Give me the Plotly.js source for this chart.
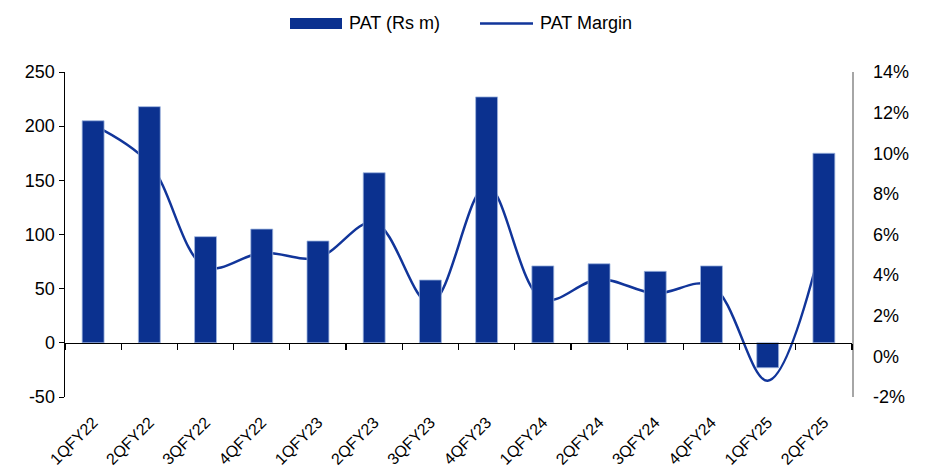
<!DOCTYPE html>
<html>
<head>
<meta charset="utf-8">
<script src="https://cdn.plot.ly/plotly-3.0.1.min.js"></script>
<style>html,body{margin:0;padding:0;background:#fff}#chart{width:925px;height:474px}</style>
</head>
<body>
<div id="chart"></div>
<script>
var quarters = ["1QFY22","2QFY22","3QFY22","4QFY22","1QFY23","2QFY23","3QFY23","4QFY23","1QFY24","2QFY24","3QFY24","4QFY24","1QFY25","2QFY25"];
var patRsM = [205, 218, 98, 105, 94, 157, 58, 227, 71, 73, 66, 71, -23, 175];
var patMargin = [0.114, 0.095, 0.044, 0.051, 0.0485, 0.066, 0.026, 0.084, 0.028, 0.038, 0.031, 0.035, -0.012, 0.060];
var leftTickVals = [-50, 0, 50, 100, 150, 200, 250];
var leftTickText = ["-50", "0", "50", "100", "150", "200", "250"];
var rightTickVals = [-0.02, 0, 0.02, 0.04, 0.06, 0.08, 0.10, 0.12, 0.14];
var rightTickText = ["-2%", "0%", "2%", "4%", "6%", "8%", "10%", "12%", "14%"];
var seriesNames = ["PAT (Rs m)", "PAT Margin"];

var blue = "#0B318F";
var lineBlue = "#11359A";
var font = "Liberation Sans, Arial, sans-serif";

var traces = [
  {
    type: "scatter", mode: "lines", name: seriesNames[1],
    x: quarters, y: patMargin, xaxis: "x", yaxis: "y",
    line: {color: lineBlue, width: 2.5, shape: "spline", smoothing: 1}
  },
  {
    type: "bar", name: seriesNames[0],
    x: quarters, y: patRsM, xaxis: "x2", yaxis: "y2",
    width: 0.39,
    marker: {color: blue, line: {color: "#9fb6e0", width: 0.8}}
  }
];

// custom legend (paper coordinates relative to plot area 65..852 x 72..397)
function px(x) { return (x - 65) / 787; }
function py(y) { return (397 - y) / 325; }

var layout = {
  width: 925, height: 474,
  margin: {l: 65, r: 73, t: 72, b: 77},
  paper_bgcolor: "#fff", plot_bgcolor: "rgba(0,0,0,0)",
  font: {family: font, size: 18, color: "#000"},
  showlegend: false,
  xaxis: {
    type: "category", range: [-0.5, 13.5], showline: false, ticks: "",
    tickangle: -45, tickfont: {family: font, size: 16, color: "#000"},
    showgrid: false, zeroline: false, ticklabelstandoff: 12
  },
  xaxis2: {
    type: "category", overlaying: "x", anchor: "free", position: 54.3/325,
    range: [-0.5, 13.5], showline: true, linecolor: "#000", linewidth: 1.5,
    ticks: "outside", ticklen: 6, tickwidth: 1.2, tickcolor: "#000", tickson: "boundaries",
    showticklabels: false, showgrid: false, zeroline: false
  },
  yaxis: {
    side: "right", range: [-0.02, 0.14],
    tickmode: "array", tickvals: rightTickVals, ticktext: rightTickText,
    showline: true, linecolor: "#a6a6a6", linewidth: 1.5, ticks: "",
    showgrid: false, zeroline: false, ticklabelstandoff: 16,
    tickfont: {family: font, size: 18, color: "#000"}
  },
  yaxis2: {
    side: "left", overlaying: "y", anchor: "x2", range: [-50, 250],
    tickmode: "array", tickvals: leftTickVals, ticktext: leftTickText,
    showline: true, linecolor: "#000", linewidth: 1.5,
    ticks: "outside", ticklen: 5, tickcolor: "#000",
    showgrid: false, zeroline: false,
    tickfont: {family: font, size: 18, color: "#000"}
  },
  shapes: [
    {type: "rect", xref: "paper", yref: "paper", x0: px(290), x1: px(342), y0: py(29), y1: py(18),
     fillcolor: blue, line: {width: 0}},
    {type: "line", xref: "paper", yref: "paper", x0: px(480), x1: px(533), y0: py(23.5), y1: py(23.5),
     line: {color: lineBlue, width: 2.5}}
  ],
  annotations: [
    {xref: "paper", yref: "paper", x: px(347), y: py(23.5), xanchor: "left", yanchor: "middle",
     text: seriesNames[0], showarrow: false, font: {family: font, size: 18, color: "#000"}},
    {xref: "paper", yref: "paper", x: px(538), y: py(23.5), xanchor: "left", yanchor: "middle",
     text: seriesNames[1], showarrow: false, font: {family: font, size: 18, color: "#000"}}
  ]
};

Plotly.newPlot("chart", traces, layout, {displayModeBar: false, staticPlot: true});
</script>
</body>
</html>
